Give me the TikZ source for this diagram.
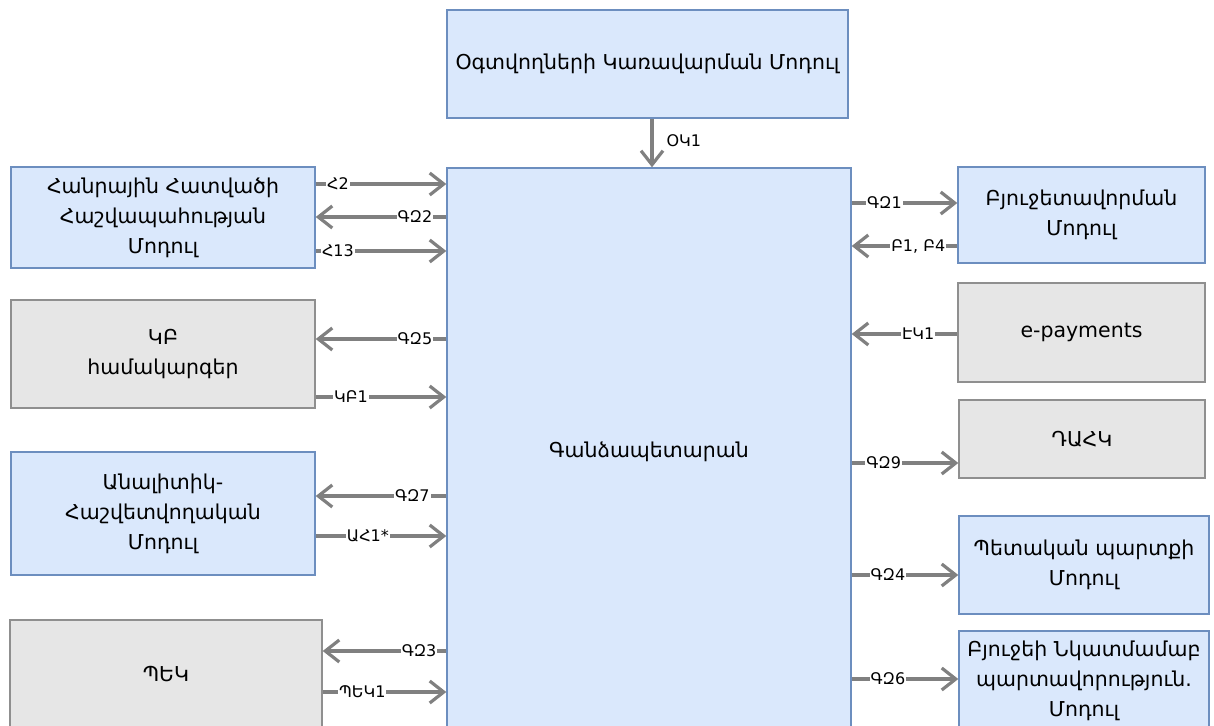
\documentclass[tikz,border=0pt]{standalone}
\usepackage{fontspec}
\setmainfont{DejaVu Sans}
\usetikzlibrary{arrows.meta}

\definecolor{modfill}{HTML}{DAE8FC}
\definecolor{modline}{HTML}{6C8EBF}
\definecolor{extfill}{HTML}{E6E6E6}
\definecolor{extline}{HTML}{8F8F8F}
\definecolor{flowline}{HTML}{808080}

\tikzset{
  module/.style={draw=modline, fill=modfill, line width=1.4pt, align=center,
    inner sep=2pt, font=\fontsize{20.5}{30}\selectfont},
  external/.style={module, draw=extline, fill=extfill},
  flow/.style={draw=flowline, line width=3.2pt,
    -{Straight Barb[length=14pt,width=22pt,line width=3.2pt]}},
  tag/.style={fill=white, inner sep=1pt, text=black,
    font=\fontsize{16}{16}\selectfont}
}

\begin{document}
\begin{tikzpicture}[x=1pt,y=-1pt]
\useasboundingbox (0,0) rectangle (1214,725);
\clip (0,0) rectangle (1214,725);

% user management module on top
\node[module, minimum width=401pt, minimum height=108pt] (um) at (647.5,64)
  {Օգտվողների Կառավարման Մոդուլ};

% treasury core
\node[module, minimum width=404pt, minimum height=567pt] (gz) at (649,451.5)
  {Գանձապետարան};

% left column
\node[module, minimum width=304pt, minimum height=101pt] (hh) at (163,217.5)
  {Հանրային Հատվածի\\Հաշվապահության\\Մոդուլ};
\node[external, minimum width=304pt, minimum height=108pt] (kb) at (163,354)
  {ԿԲ\\համակարգեր};
\node[module, minimum width=304pt, minimum height=123pt] (ah) at (163,513.5)
  {Անալիտիկ-\\Հաշվետվողական\\Մոդուլ};
\node[external, minimum width=312pt, minimum height=108pt] (pek) at (166,674)
  {ՊԵԿ};

% right column
\node[module, minimum width=247pt, minimum height=96pt] (bm) at (1081.5,215)
  {Բյուջետավորման\\Մոդուլ};
\node[external, minimum width=247pt, minimum height=99pt] (ep) at (1081.5,332.5)
  {e-payments};
\node[external, minimum width=246pt, minimum height=78pt] (dahk) at (1082,439)
  {ԴԱՀԿ};
\node[module, minimum width=250pt, minimum height=98pt] (pp) at (1084,565)
  {Պետական պարտքի\\Մոդուլ};
\node[module, minimum width=250pt, minimum height=100pt] (bn) at (1084,681)
  {Բյուջեի Նկատմամաբ\\պարտավորություն.\\Մոդուլ};

% top flow
\draw[flow] (um.south -| 652,0) -- (gz.north -| 652,0)
  node[tag, right, pos=0.45, xshift=12pt] {ՕԿ1};

% left flows
\draw[flow] (hh.east |- 0,184) -- (gz.west |- 0,184) node[tag, pos=0.17] {Հ2};
\draw[flow] (gz.west |- 0,217) -- (hh.east |- 0,217) node[tag, pos=0.24] {ԳԶ2};
\draw[flow] (hh.east |- 0,251) -- (gz.west |- 0,251) node[tag, pos=0.17] {Հ13};

\draw[flow] (gz.west |- 0,339) -- (kb.east |- 0,339) node[tag, pos=0.24] {ԳԶ5};
\draw[flow] (kb.east |- 0,397) -- (gz.west |- 0,397) node[tag, pos=0.27] {ԿԲ1};

\draw[flow] (gz.west |- 0,496) -- (ah.east |- 0,496) node[tag, pos=0.26] {ԳԶ7};
\draw[flow] (ah.east |- 0,536) -- (gz.west |- 0,536) node[tag, pos=0.40] {ԱՀ1*};

\draw[flow] (gz.west |- 0,651) -- (pek.east |- 0,651) node[tag, pos=0.22] {ԳԶ3};
\draw[flow] (pek.east |- 0,692) -- (gz.west |- 0,692) node[tag, pos=0.32] {ՊԵԿ1};

% right flows
\draw[flow] (gz.east |- 0,203) -- (bm.west |- 0,203) node[tag, pos=0.31] {ԳԶ1};
\draw[flow] (bm.west |- 0,246) -- (gz.east |- 0,246) node[tag, pos=0.37] {Բ1, Բ4};
\draw[flow] (ep.west |- 0,334) -- (gz.east |- 0,334) node[tag, pos=0.37] {ԷԿ1};
\draw[flow] (gz.east |- 0,463) -- (dahk.west |- 0,463) node[tag, pos=0.30] {ԳԶ9};
\draw[flow] (gz.east |- 0,575) -- (pp.west |- 0,575) node[tag, pos=0.34] {ԳԶ4};
\draw[flow] (gz.east |- 0,679) -- (bn.west |- 0,679) node[tag, pos=0.34] {ԳԶ6};
\end{tikzpicture}
\end{document}
